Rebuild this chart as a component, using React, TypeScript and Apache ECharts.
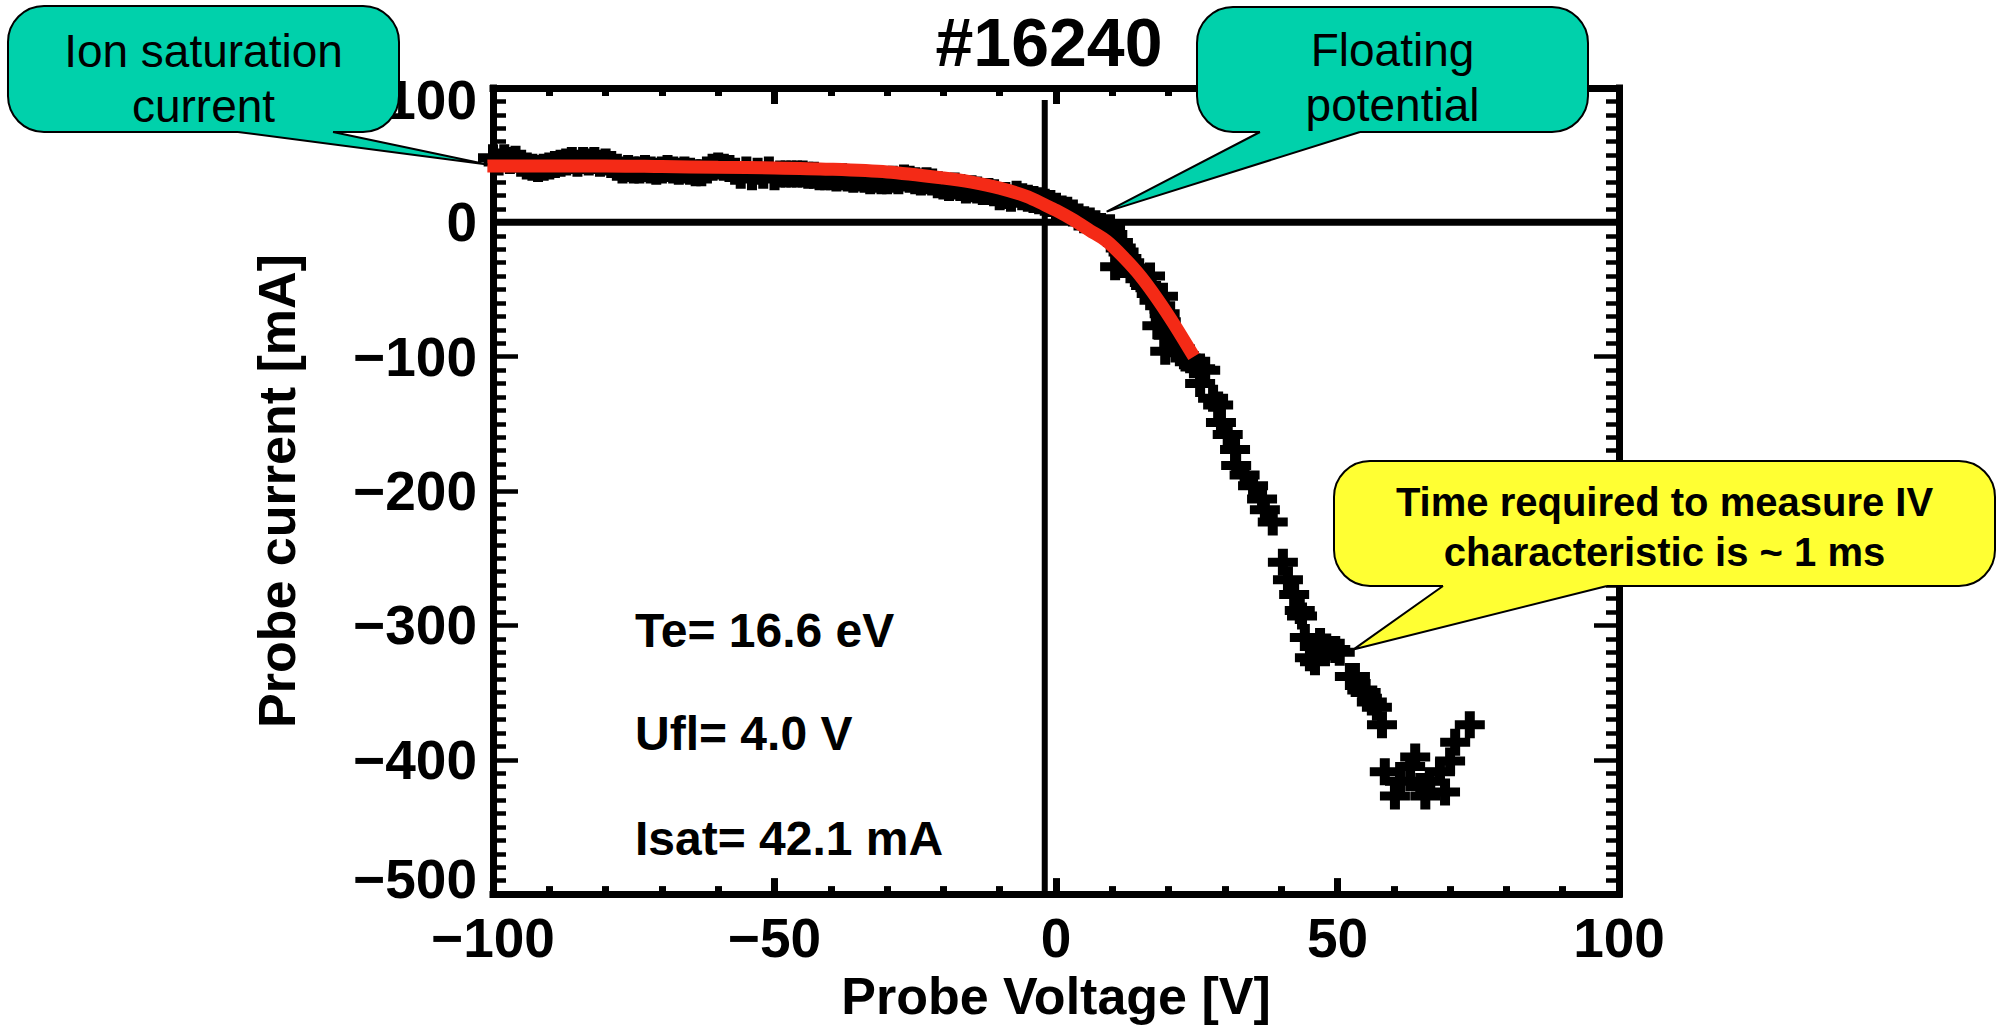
import { useEffect, useRef } from 'react';
import * as echarts from 'echarts';

const FONT = '"Liberation Sans", Arial, Helvetica, sans-serif';

const chartTitle = '#16240';
const xAxisName = 'Probe Voltage [V]';
const yAxisName = 'Probe current [mA]';
const fitInfo = ['Te= 16.6 eV', 'Ufl= 4.0 V', 'Isat= 42.1 mA'];

// y tick labels at the ends of the axis are drawn slightly inside (as in the reference)
const yEndLabels: { value: number; shift: number }[] = [
  { value: 100, shift: 12 },
  { value: -500, shift: -15 },
];

// Red fitted characteristic (voltage [V], current [mA])
const fitVoltage = [-101, -90, -80, -70, -60, -50, -40, -30, -20, -15, -10, -5, -2, 0, 3, 6, 9, 12, 15, 18, 21, 24.5];
const fitCurrent = [42, 42, 42, 41.5, 41, 40.5, 39.5, 37.5, 33, 30, 25.5, 19, 13, 9, 2, -6, -14, -26, -40, -57, -76, -100];

// Measured points, ion-saturation branch
const measuredFlat: [number, number][] = [
  [-100, 48], [-99, 45], [-98, 48], [-97, 46], [-96, 47], [-95, 44], [-94, 42], [-93, 41], [-92, 40], [-91, 41],
  [-90, 42], [-89, 43], [-88, 44], [-87, 45], [-86, 46], [-85, 44], [-84, 46], [-83, 45], [-82, 46], [-81, 44],
  [-80, 45], [-79, 43], [-78, 41], [-77, 39], [-76, 40], [-75, 39], [-74, 39], [-73, 40], [-72, 39], [-71, 38],
  [-70, 39], [-69, 40], [-68, 39], [-67, 38], [-66, 39], [-65, 38], [-64, 37], [-63, 37], [-62, 39], [-61, 41],
  [-60, 42], [-59, 41], [-58, 40], [-57, 38], [-56, 35], [-55, 39], [-54, 34], [-53, 38], [-52, 35], [-51, 39],
  [-50, 34], [-49, 36], [-48, 36], [-47, 36], [-46, 36], [-45, 36], [-44, 35], [-43, 35], [-42, 34], [-41, 34],
  [-40, 34], [-39, 33], [-38, 34], [-37, 33], [-36, 32], [-35, 33], [-34, 32], [-33, 31], [-32, 32], [-31, 31],
  [-30, 31], [-29, 32], [-28, 31], [-27, 33], [-26, 32], [-25, 31], [-24, 30], [-23, 31], [-22, 30], [-21, 28],
  [-20, 27], [-19, 26], [-18, 27], [-17, 26], [-16, 24], [-15, 25], [-14, 24], [-13, 23], [-12, 23], [-11, 22],
  [-10, 19], [-9, 20], [-8, 18], [-7, 21], [-6, 19], [-5, 18], [-4, 17], [-3, 16], [-2, 15], [-1, 14],
];

// Measured points, transition and electron branch
const measuredSlope: [number, number][] = [
  [0, 12], [1, 10], [2, 9], [3, 7], [4, 4], [5, 2], [6, 1], [7, -1], [8, -3], [9, -5],
  [9.6, -4], [10, -9], [10.5, -33], [11, -15], [11.5, -19], [12, -22], [12.5, -27], [13, -30], [13.5, -34], [14, -38],
  [15, -42], [16, -47], [16.7, -40], [17, -53], [17.5, -58], [18, -77], [18.5, -62], [19, -55], [19.3, -68], [19.5, -74],
  [19.4, -96], [20, -84], [21, -90], [22, -97], [23, -101], [23.8, -101], [24.5, -106], [25.6, -109], [26.5, -110], [25.6, -120],
  [27.9, -131], [28.8, -136], [29.3, -149], [30.5, -158], [31.8, -169], [32, -181], [33.5, -188], [35, -196], [36.6, -206], [37.1, -214],
  [38.5, -223], [40.3, -253], [41.2, -266], [42.3, -277], [43.3, -289], [43.7, -293], [44.2, -309], [45.1, -324], [46.9, -312], [46, -327],
  [48, -316], [49.6, -318], [50.4, -320], [52.2, -338], [53.1, -338], [54.4, -348], [55, -350], [56.1, -357], [57, -361], [57.9, -374],
];

// Measured points, bottom cluster
const measuredTail: [number, number][] = [
  [58.4, -409], [60.2, -427], [61.1, -416], [62.9, -405], [63.8, -398], [64.7, -420], [65.6, -427], [66.4, -416],
  [68.2, -409], [69.1, -424], [70, -401], [70.9, -387], [73.5, -374],
];

// Reference lines
const zeroLine: [number, number][] = [[-100, 0], [100, 0]];
const floatingLine: [number, number][] = [[-2, 91], [-2, -500]];

// Callout anchor points (data coordinates)
const ionTip: [number, number] = [-101, 43];
const floatTip: [number, number] = [9, 8];
const timeTip: [number, number] = [52.8, -318];

const PLUS = 'path://M9,0H18V9H27V18H18V27H9V18H0V9H9Z';

const fmt = (v: number) => (v < 0 ? '\u2212' + Math.abs(v) : String(v));

function xAxis(pos: 'bottom' | 'top', labels: boolean) {
  return {
    type: 'value',
    min: -100,
    max: 100,
    interval: 50,
    position: pos,
    name: labels ? xAxisName : '',
    nameLocation: 'middle',
    nameGap: 66,
    nameTextStyle: { fontFamily: FONT, fontWeight: 'bold', fontSize: 52, color: '#000' },
    axisLine: { onZero: false, lineStyle: { color: '#000', width: 7, cap: 'square' } },
    axisTick: { inside: true, length: 16, lineStyle: { color: '#000', width: 7 } },
    minorTick: { show: true, splitNumber: 5, length: 8, lineStyle: { color: '#000', width: 7 } },
    splitLine: { show: false },
    minorSplitLine: { show: false },
    axisLabel: {
      show: labels,
      margin: 16,
      formatter: fmt,
      fontFamily: FONT,
      fontWeight: 'bold',
      fontSize: 55,
      color: '#000',
    },
  };
}

const endValues = yEndLabels.map((e) => e.value);

function yAxis(pos: 'left' | 'right', labels: boolean) {
  return {
    type: 'value',
    min: -500,
    max: 100,
    interval: 100,
    position: pos,
    name: labels ? yAxisName : '',
    nameLocation: 'middle',
    nameGap: 190,
    nameTextStyle: { fontFamily: FONT, fontWeight: 'bold', fontSize: 52, color: '#000' },
    axisLine: { onZero: false, lineStyle: { color: '#000', width: 7, cap: 'square' } },
    axisTick: { inside: true, length: 25, lineStyle: { color: '#000', width: 4.5 } },
    minorTick: { show: true, splitNumber: 10, length: 13, lineStyle: { color: '#000', width: 4.5 } },
    splitLine: { show: false },
    minorSplitLine: { show: false },
    axisLabel: {
      show: labels,
      margin: 16,
      fontFamily: FONT,
      fontWeight: 'bold',
      fontSize: 55,
      color: '#000',
      formatter: (v: number) => (endValues.includes(v) ? '' : fmt(v)),
    },
  };
}

type Box = { x: number; y: number; w: number; h: number };

function callout(
  id: string,
  box: Box,
  base: [number, number],
  tip: number[],
  fill: string,
  lines: { text: string; y: number }[],
  fontSize: number,
  bold: boolean,
) {
  const bottom = box.y + box.h;
  const cx = box.x + box.w / 2;
  const els: any[] = [
    {
      type: 'rect',
      id: id + '-box',
      z: 100,
      shape: { x: box.x, y: box.y, width: box.w, height: box.h, r: 36 },
      style: { fill, stroke: '#000', lineWidth: 2 },
    },
    {
      type: 'polygon',
      id: id + '-ptr',
      z: 101,
      shape: { points: [[base[0], bottom], [base[0], bottom - 4], [base[1], bottom - 4], [base[1], bottom], tip] },
      style: { fill, stroke: null },
    },
    {
      type: 'polyline',
      id: id + '-edge',
      z: 102,
      shape: { points: [[base[0], bottom], tip, [base[1], bottom]] },
      style: { fill: null, stroke: '#000', lineWidth: 2 },
    },
  ];
  lines.forEach((ln, i) => {
    els.push({
      type: 'text',
      id: id + '-t' + i,
      z: 103,
      x: cx,
      y: ln.y,
      style: {
        text: ln.text,
        fontFamily: FONT,
        fontSize,
        fontWeight: bold ? 'bold' : 'normal',
        fill: '#000',
        align: 'center',
        verticalAlign: 'middle',
        textAlign: 'center',
        textVerticalAlign: 'middle',
      },
    });
  });
  return els;
}

function plainText(id: string, text: string, x: number, y: number, fontSize: number, align: string, z = 90) {
  return {
    type: 'text',
    id,
    z,
    x,
    y,
    style: {
      text,
      fontFamily: FONT,
      fontSize,
      fontWeight: 'bold',
      fill: '#000',
      align,
      verticalAlign: 'middle',
      textAlign: align,
      textVerticalAlign: 'middle',
    },
  };
}

export default function App() {
  const ref = useRef<HTMLDivElement>(null);
  useEffect(() => {
    if (!ref.current) return;
    const chart = echarts.init(ref.current, null, { renderer: 'svg' });
    const plusSeries = (data: [number, number][]) => ({
      type: 'scatter',
      data,
      symbol: PLUS,
      symbolSize: [30, 27],
      itemStyle: { color: '#000', opacity: 1 },
      emphasis: { disabled: true },
      z: 2,
      silent: true,
    });
    chart.setOption({
      animation: false,
      backgroundColor: '#fff',
      grid: { left: 493, right: 380, top: 88, bottom: 129, containLabel: false },
      xAxis: [xAxis('bottom', true), xAxis('top', false)],
      yAxis: [yAxis('left', true), yAxis('right', false)],
      series: [
        plusSeries(measuredFlat),
        plusSeries(measuredSlope),
        plusSeries(measuredTail),
        {
          type: 'line',
          data: zeroLine,
          showSymbol: false,
          lineStyle: { color: '#000', width: 7 },
          z: 2,
          silent: true,
        },
        {
          type: 'line',
          data: floatingLine,
          showSymbol: false,
          lineStyle: { color: '#000', width: 6 },
          z: 2,
          silent: true,
        },
        {
          type: 'line',
          data: fitVoltage.map((v, i) => [v, fitCurrent[i]]),
          showSymbol: false,
          smooth: 0.3,
          clip: false,
          lineStyle: { color: '#F42A16', width: 13 },
          z: 3,
          silent: true,
        },
      ],
    });
    const px = (p: [number, number]) => chart.convertToPixel({ gridIndex: 0 }, p) as number[];
    const leftX = px([-100, 0])[0];
    const graphics: any[] = [
      plainText('title', chartTitle, 1049, 42, 68, 'center'),
      plainText('te', fitInfo[0], 635, 630, 48, 'left'),
      plainText('ufl', fitInfo[1], 635, 733, 48, 'left'),
      plainText('isat', fitInfo[2], 635, 838, 48, 'left'),
      ...yEndLabels.map((e) =>
        plainText('yend' + e.value, fmt(e.value), leftX - 16, px([-100, e.value])[1] + e.shift, 55, 'right', 50),
      ),
      ...callout(
        'ion',
        { x: 8, y: 6, w: 391, h: 126 },
        [238, 333],
        px(ionTip),
        '#00D1AB',
        [
          { text: 'Ion saturation', y: 51 },
          { text: 'current', y: 106 },
        ],
        46,
        false,
      ),
      ...callout(
        'float',
        { x: 1197, y: 7, w: 391, h: 125 },
        [1260, 1360],
        px(floatTip),
        '#00D1AB',
        [
          { text: 'Floating', y: 50 },
          { text: 'potential', y: 105 },
        ],
        46,
        false,
      ),
      ...callout(
        'time',
        { x: 1334, y: 461, w: 661, h: 125 },
        [1443, 1607],
        px(timeTip),
        '#FFFF33',
        [
          { text: 'Time required to measure IV', y: 502 },
          { text: 'characteristic is ~ 1 ms', y: 552 },
        ],
        40,
        true,
      ),
    ];
    chart.setOption({ graphic: graphics });
    return () => chart.dispose();
  }, []);
  return (
    <div
      ref={ref}
      style={{ position: 'fixed', left: 0, top: 0, width: 1999, height: 1027, background: '#fff' }}
    />
  );
}
